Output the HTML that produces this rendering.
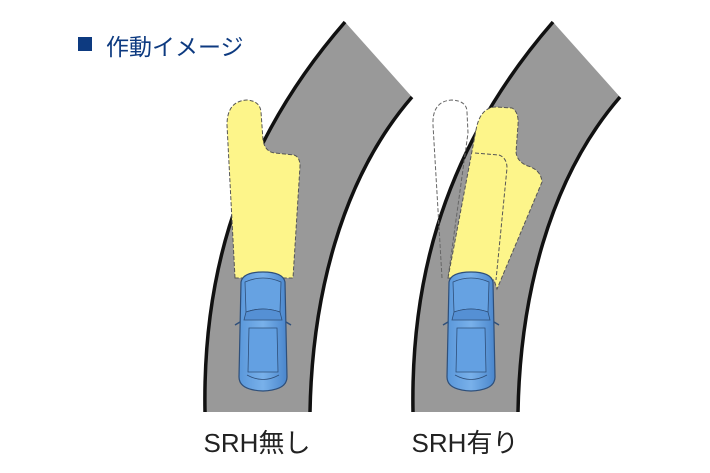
<!DOCTYPE html>
<html><head><meta charset="utf-8"><style>
body{margin:0;background:#fff;}
svg{display:block}
</style></head><body>
<svg width="710" height="473" viewBox="0 0 710 473" xmlns="http://www.w3.org/2000/svg">
<defs>
<linearGradient id="cg" x1="0" x2="1"><stop offset="0" stop-color="#5a97da"/><stop offset="0.5" stop-color="#79b1ea"/><stop offset="1" stop-color="#4a86cc"/></linearGradient>
<g id="car">
<path d="M4,10 Q6,0 26,0 Q46,0 48,10 L50,105 Q50,118 26,119 Q2,118 2,105 Z" fill="url(#cg)" stroke="#2e4f7a" stroke-width="1.2"/>
<path d="M8,10 Q26,2 44,10 L43,40 Q26,34 9,40 Z" fill="#66a2e2" stroke="#2e4f7a" stroke-width="0.8"/>
<path d="M9,40 Q26,34 43,40 L45,48 L7,48 Z" fill="#5590d4" stroke="#2e4f7a" stroke-width="0.8"/>
<path d="M12,56 L40,56 L41,100 L11,100 Z" fill="#63a0e2" stroke="#2e4f7a" stroke-width="0.8"/>
<path d="M10,103 Q26,112 42,103" fill="none" stroke="#2e4f7a" stroke-width="0.8"/>
<path d="M3,50 L-2,53 M49,50 L54,53" stroke="#2e4f7a" stroke-width="1.5"/>
</g>
</defs>
<rect x="78" y="37" width="14" height="14" fill="#0d3a80"/>
<text x="106" y="55" font-family="'Liberation Sans','Noto Sans CJK JP',sans-serif" font-size="23" fill="#0d3a80">作動イメージ</text>

<path d="M205,412 C203,300 225,160 345,22 L412,97 C340,180 312,300 310,412 Z" fill="#999"/>
<path d="M205,412 C203,300 225,160 345,22" fill="none" stroke="#111" stroke-width="3.5"/>
<path d="M412,97 C340,180 312,300 310,412" fill="none" stroke="#111" stroke-width="3.5"/>
<path d="M413,412 C411,300 433,160 553,22 L620,97 C548,180 520,300 518,412 Z" fill="#999"/>
<path d="M413,412 C411,300 433,160 553,22" fill="none" stroke="#111" stroke-width="3.5"/>
<path d="M620,97 C548,180 520,300 518,412" fill="none" stroke="#111" stroke-width="3.5"/>

<path d="M235,278 L227,125 Q227,101 247,100 Q260,101 261,112 L263,140 Q265,152 275,153 L294,155 Q300,157 300,166 L293,278 Z" fill="#fdf58a" stroke="#555" stroke-width="1" stroke-dasharray="4,2"/>
<use href="#car" x="237" y="272"/>

<path d="M442,278 L433,125 Q432,101 452,100 Q467,101 467,112 L468,133 L448,278" fill="none" stroke="#666" stroke-width="1" stroke-dasharray="4,2"/>
<path d="M448,278 L476,130 Q480,108 495,107 L512,108 Q519,112 518,125 L516,152 Q517,162 528,166 Q541,170 542,182 L497,289 L494,280 Z" fill="#fdf58a" stroke="#555" stroke-width="1" stroke-dasharray="4,2"/>
<path d="M475,153 L499,155 Q507,158 507,168 L496,280" fill="none" stroke="#555" stroke-width="1" stroke-dasharray="4,2"/>
<use href="#car" x="445" y="272"/>

<text x="257" y="452" text-anchor="middle" font-family="'Liberation Sans','Noto Sans CJK JP',sans-serif" font-size="26" fill="#222">SRH無し</text>
<text x="465" y="452" text-anchor="middle" font-family="'Liberation Sans','Noto Sans CJK JP',sans-serif" font-size="26" fill="#222">SRH有り</text>
</svg>
</body></html>
